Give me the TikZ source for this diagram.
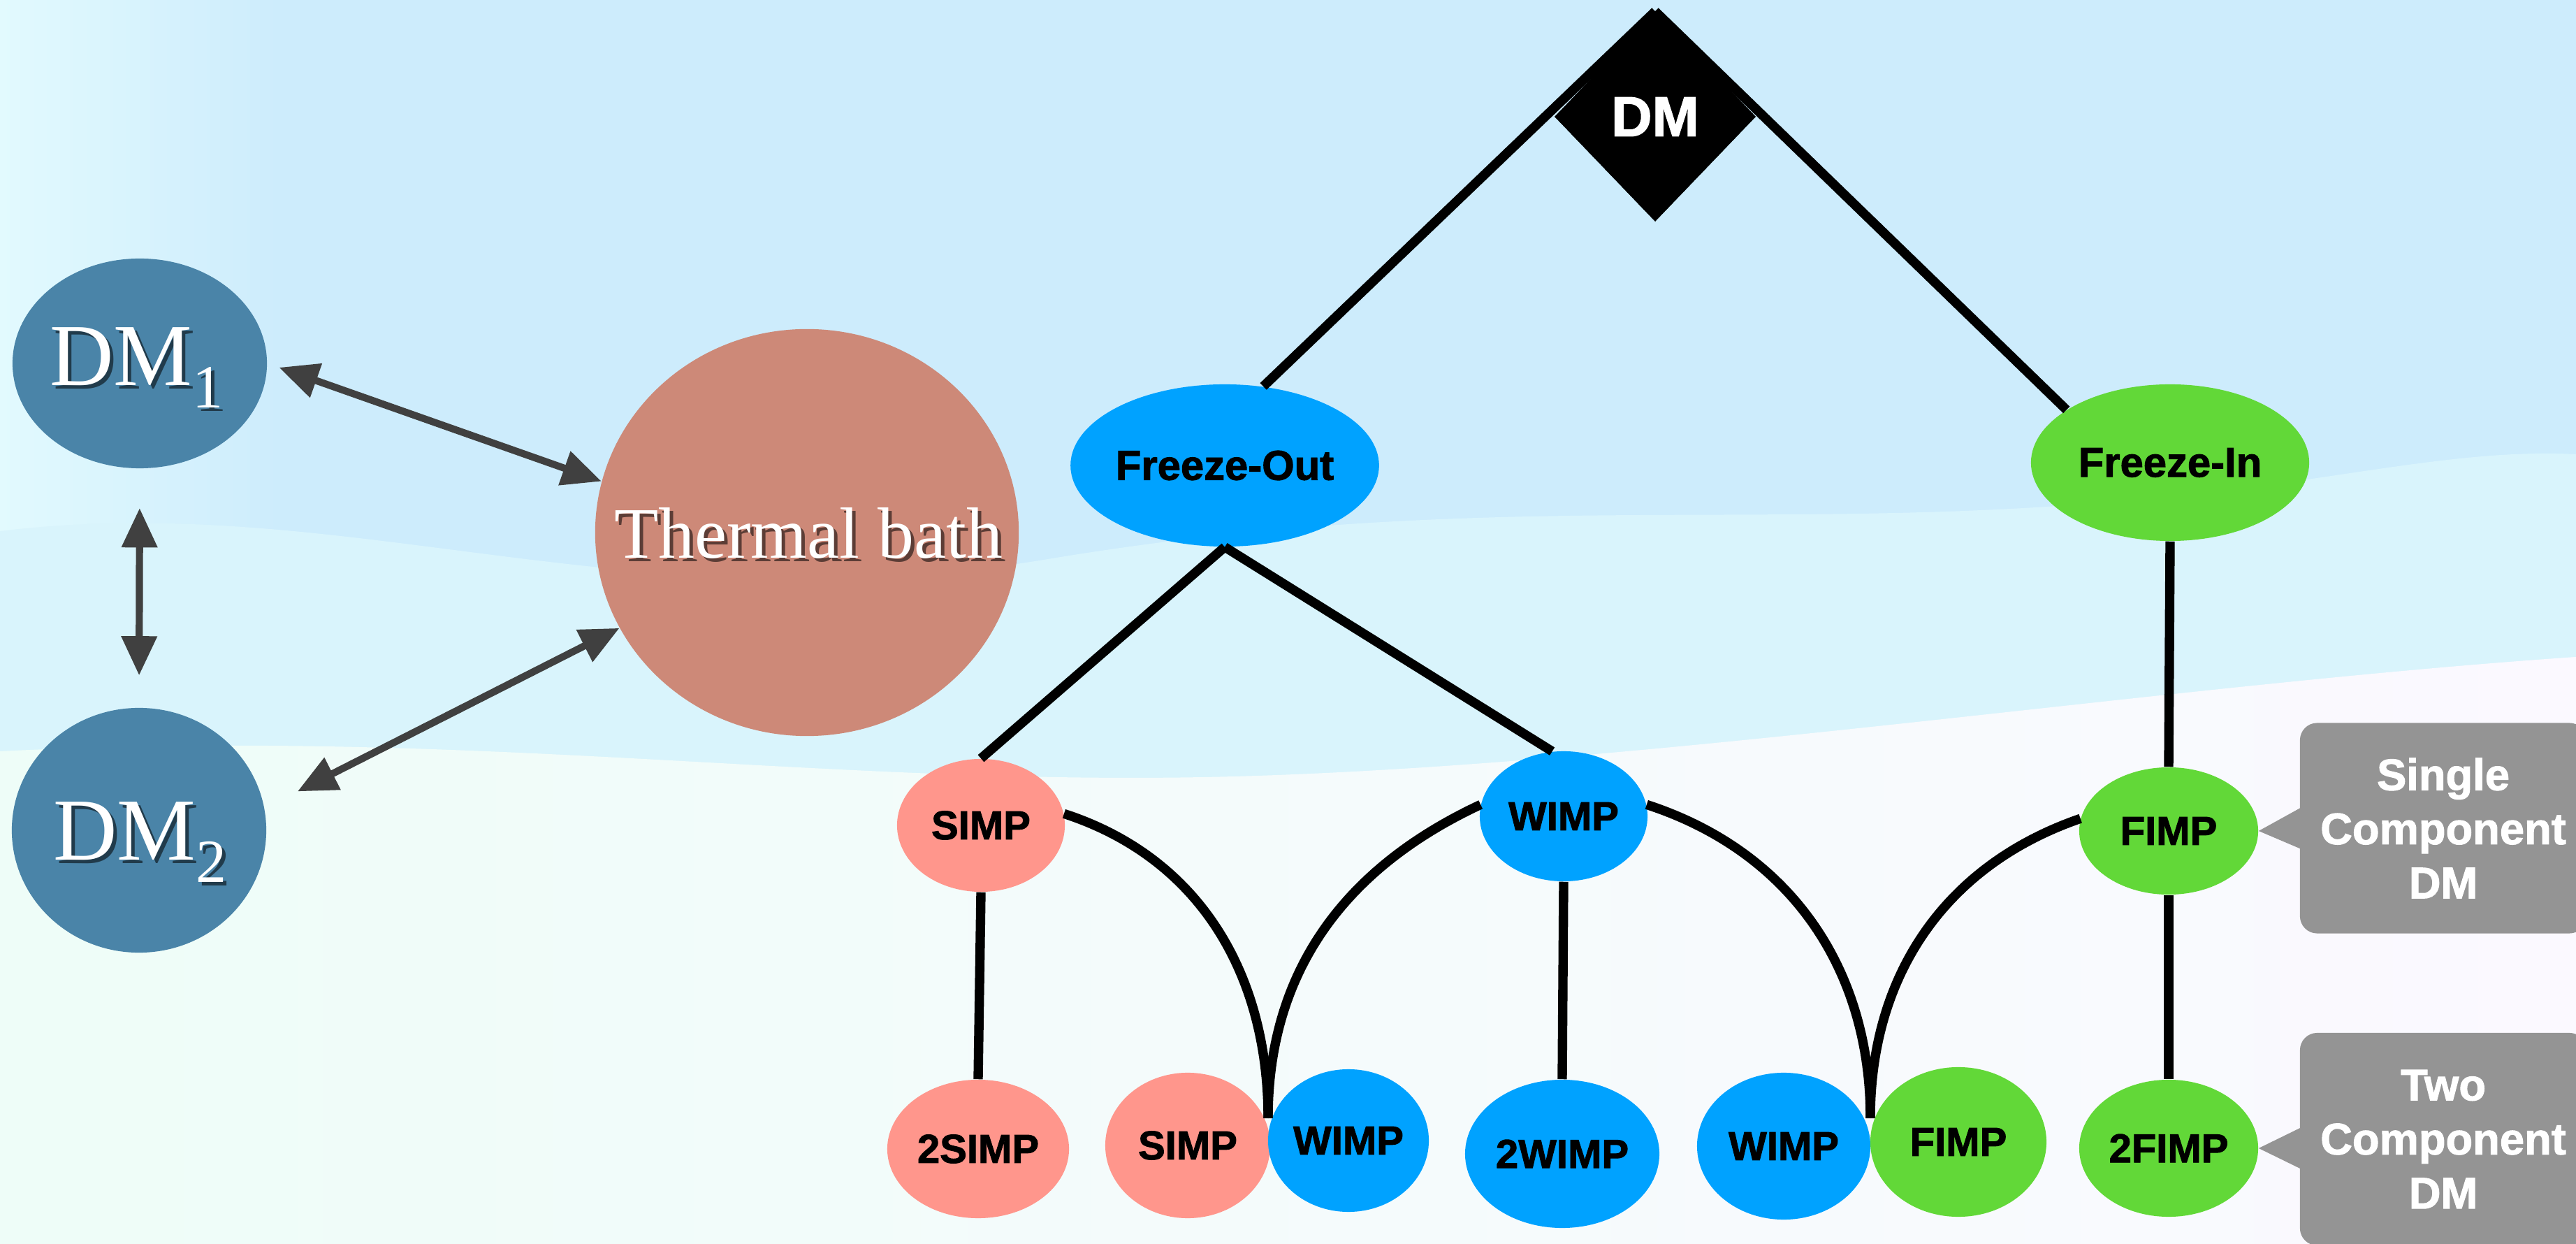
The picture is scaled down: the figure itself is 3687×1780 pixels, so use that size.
\documentclass[tikz,border=0pt]{standalone}
\usepackage{fontspec}
\setmainfont{Liberation Serif}
\setsansfont{Liberation Sans}[BoldFeatures={FakeBold=1.6}]
\usetikzlibrary{shapes.geometric,arrows.meta}
\definecolor{bgtop}{RGB}{205,236,252}
\definecolor{bgedge}{RGB}{226,250,254}
\definecolor{bgmid}{RGB}{217,244,252}
\definecolor{bglowL}{RGB}{238,253,248}
\definecolor{bglowR}{RGB}{251,249,255}
\definecolor{simppink}{RGB}{255,150,140}
\definecolor{wimpblue}{RGB}{0,162,255}
\definecolor{fimpgreen}{RGB}{98,216,56}
\definecolor{arrowgray}{RGB}{64,64,64}
\definecolor{calloutgray}{RGB}{148,148,148}
\definecolor{dmball}{RGB}{74,132,168}
\definecolor{bathcol}{RGB}{205,137,120}
\newcommand\dmsub[1]{DM\raisebox{-9pt}{\fontsize{25}{25}\selectfont #1}}
\begin{document}
\begin{tikzpicture}[x=0.01cm, y=-0.01cm,
  every node/.style={inner sep=0pt},
  lab/.style={ellipse, font=\sffamily\bfseries\fontsize{16.5}{18}\selectfont, text=black},
  simpn/.style={lab, fill=simppink},
  wimpn/.style={lab, fill=wimpblue},
  fimpn/.style={lab, fill=fimpgreen},
  link/.style={draw=black, line width=3.8pt},
  biarrow/.style={draw=arrowgray, line width=2.9pt, {Triangle[length=16pt,width=14pt]}-{Triangle[length=16pt,width=14pt]}},
  callout/.style={fill=calloutgray, rounded corners=7pt, text=white, align=center, font=\sffamily\bfseries\fontsize{18}{22}\selectfont},
  ball/.style={ellipse, fill=dmball},
  serifw/.style={text=white},
  serifs/.style={text=black, text opacity=0.55},
]
\useasboundingbox (0,0) rectangle (3687,1780);
\clip (0,0) rectangle (3687,1780);
% background
\fill[bgtop] (0,0) rectangle (3687,1780);
\shade[left color=bgedge, right color=bgtop] (0,0) rectangle (400,1780);
\fill[bgmid] (0,760) .. controls (500,700) and (900,900) .. (1500,800) .. controls (2100,700) and (2500,760) .. (3000,720) .. controls (3300,700) and (3500,640) .. (3687,650) -- (3687,1780) -- (0,1780) -- cycle;
\shade[left color=bglowL, right color=bglowR] (0,1075) .. controls (700,1040) and (1200,1130) .. (1800,1110) .. controls (2400,1090) and (3100,980) .. (3687,940) -- (3687,1780) -- (0,1780) -- cycle;

% left part
\node[ball, minimum width=3.64cm, minimum height=3.0cm] (dm1) at (200,520) {};
\node[ball, minimum width=3.64cm, minimum height=3.5cm] (dm2) at (199,1188) {};
\node[ellipse, fill=bathcol, minimum width=6.06cm, minimum height=5.82cm] (tb) at (1155,762) {};
\node[serifs, font=\fontsize{36}{40}\selectfont] (dm1s) at (200,531) {\dmsub{1}};
\node[serifw, font=\fontsize{36}{40}\selectfont] (dm1t) at (195,526) {\dmsub{1}};
\node[serifs, font=\fontsize{36}{40}\selectfont] (dm2s) at (205,1210) {\dmsub{2}};
\node[serifw, font=\fontsize{36}{40}\selectfont] (dm2t) at (200,1205) {\dmsub{2}};
\node[serifs, font=\fontsize{29.5}{32}\selectfont] (tbs) at (1162,768) {Thermal bath};
\node[serifw, font=\fontsize{29.5}{32}\selectfont] (tbt) at (1157,763) {Thermal bath};
\draw[biarrow, shorten <=5pt] (dm1.east) -- (tb.166);
\draw[biarrow, shorten <=16pt, shorten >=13pt] (dm1.south) -- (dm2.north);
\draw[biarrow, shorten >=15pt] (tb.207) -- (dm2.10);

% tree
\node[diamond, fill=black, minimum width=2.88cm, minimum height=3.0cm, text=white, font=\sffamily\bfseries\fontsize{23}{26}\selectfont] (dm) at (2369,167) {DM};
\node[wimpn, minimum width=4.38cm, minimum height=2.32cm, font=\sffamily\bfseries\fontsize{17}{19}\selectfont] (fo) at (1753,666) {Freeze-Out};
\node[fimpn, minimum width=3.98cm, minimum height=2.24cm, font=\sffamily\bfseries\fontsize{17}{19}\selectfont] (fi) at (3106,662) {Freeze-In};
\draw[link] (dm.north) -- (fo.64);
\draw[link] (dm.north) -- (fi.153);
\node[diamond, fill=black, minimum width=2.88cm, minimum height=3.0cm, text=white, font=\sffamily\bfseries\fontsize{23}{26}\selectfont] (dmtop) at (2369,167) {DM};

\node[simpn, minimum width=2.4cm, minimum height=1.9cm] (simp) at (1404,1181) {SIMP};
\node[wimpn, minimum width=2.4cm, minimum height=1.86cm] (wimp) at (2238,1168) {WIMP};
\node[fimpn, minimum width=2.56cm, minimum height=1.82cm] (fimp) at (3104,1189) {FIMP};

\node[simpn, minimum width=2.6cm, minimum height=1.98cm] (ssimp) at (1400,1644) {2SIMP};
\node[simpn, minimum width=2.36cm, minimum height=2.08cm] (simpb) at (1700,1639) {SIMP};
\node[wimpn, minimum width=2.3cm, minimum height=2.04cm] (wimpb) at (1930,1632) {WIMP};
\node[wimpn, minimum width=2.78cm, minimum height=2.12cm] (wwimp) at (2236,1651) {2WIMP};
\node[wimpn, minimum width=2.48cm, minimum height=2.1cm] (wimpc) at (2553,1640) {WIMP};
\node[fimpn, minimum width=2.52cm, minimum height=2.14cm] (fimpb) at (2803,1634) {FIMP};
\node[fimpn, minimum width=2.56cm, minimum height=1.96cm] (ffimp) at (3104,1643) {2FIMP};

\draw[link] (fo.south) -- (simp.north);
\draw[link] (fo.south) -- (wimp.100);
\draw[link] (fi.south) -- (fimp.north);
\draw[link] (simp.south) -- (ssimp.north);
\draw[link] (wimp.south) -- (wwimp.north);
\draw[link] (fimp.south) -- (ffimp.north);

\coordinate (j1) at (1815,1600);
\coordinate (j2) at (2677,1600);
\draw[link] (simp.8) to[out=-18, in=90] (j1);
\draw[link] (wimp.172) to[out=205, in=90] (j1);
\draw[link] (wimp.8) to[out=-18, in=90] (j2);
\draw[link] (fimp.172) to[out=199, in=90] (j2);

% callouts
\node[callout, minimum width=4.1cm, minimum height=3.01cm] (c1) at (3497,1185) {Single\\Component\\DM};
\node[callout, minimum width=4.1cm, minimum height=3.04cm] (c2) at (3497,1630) {Two\\Component\\DM};
\fill[calloutgray] (fimp.east) -- ([xshift=0.05cm, yshift=0.31cm]c1.west) -- ([xshift=0.05cm, yshift=-0.31cm]c1.west) -- cycle;
\fill[calloutgray] (ffimp.east) -- ([xshift=0.05cm, yshift=0.31cm]c2.west |- ffimp.east) -- ([xshift=0.05cm, yshift=-0.31cm]c2.west |- ffimp.east) -- cycle;
\end{tikzpicture}
\end{document}
